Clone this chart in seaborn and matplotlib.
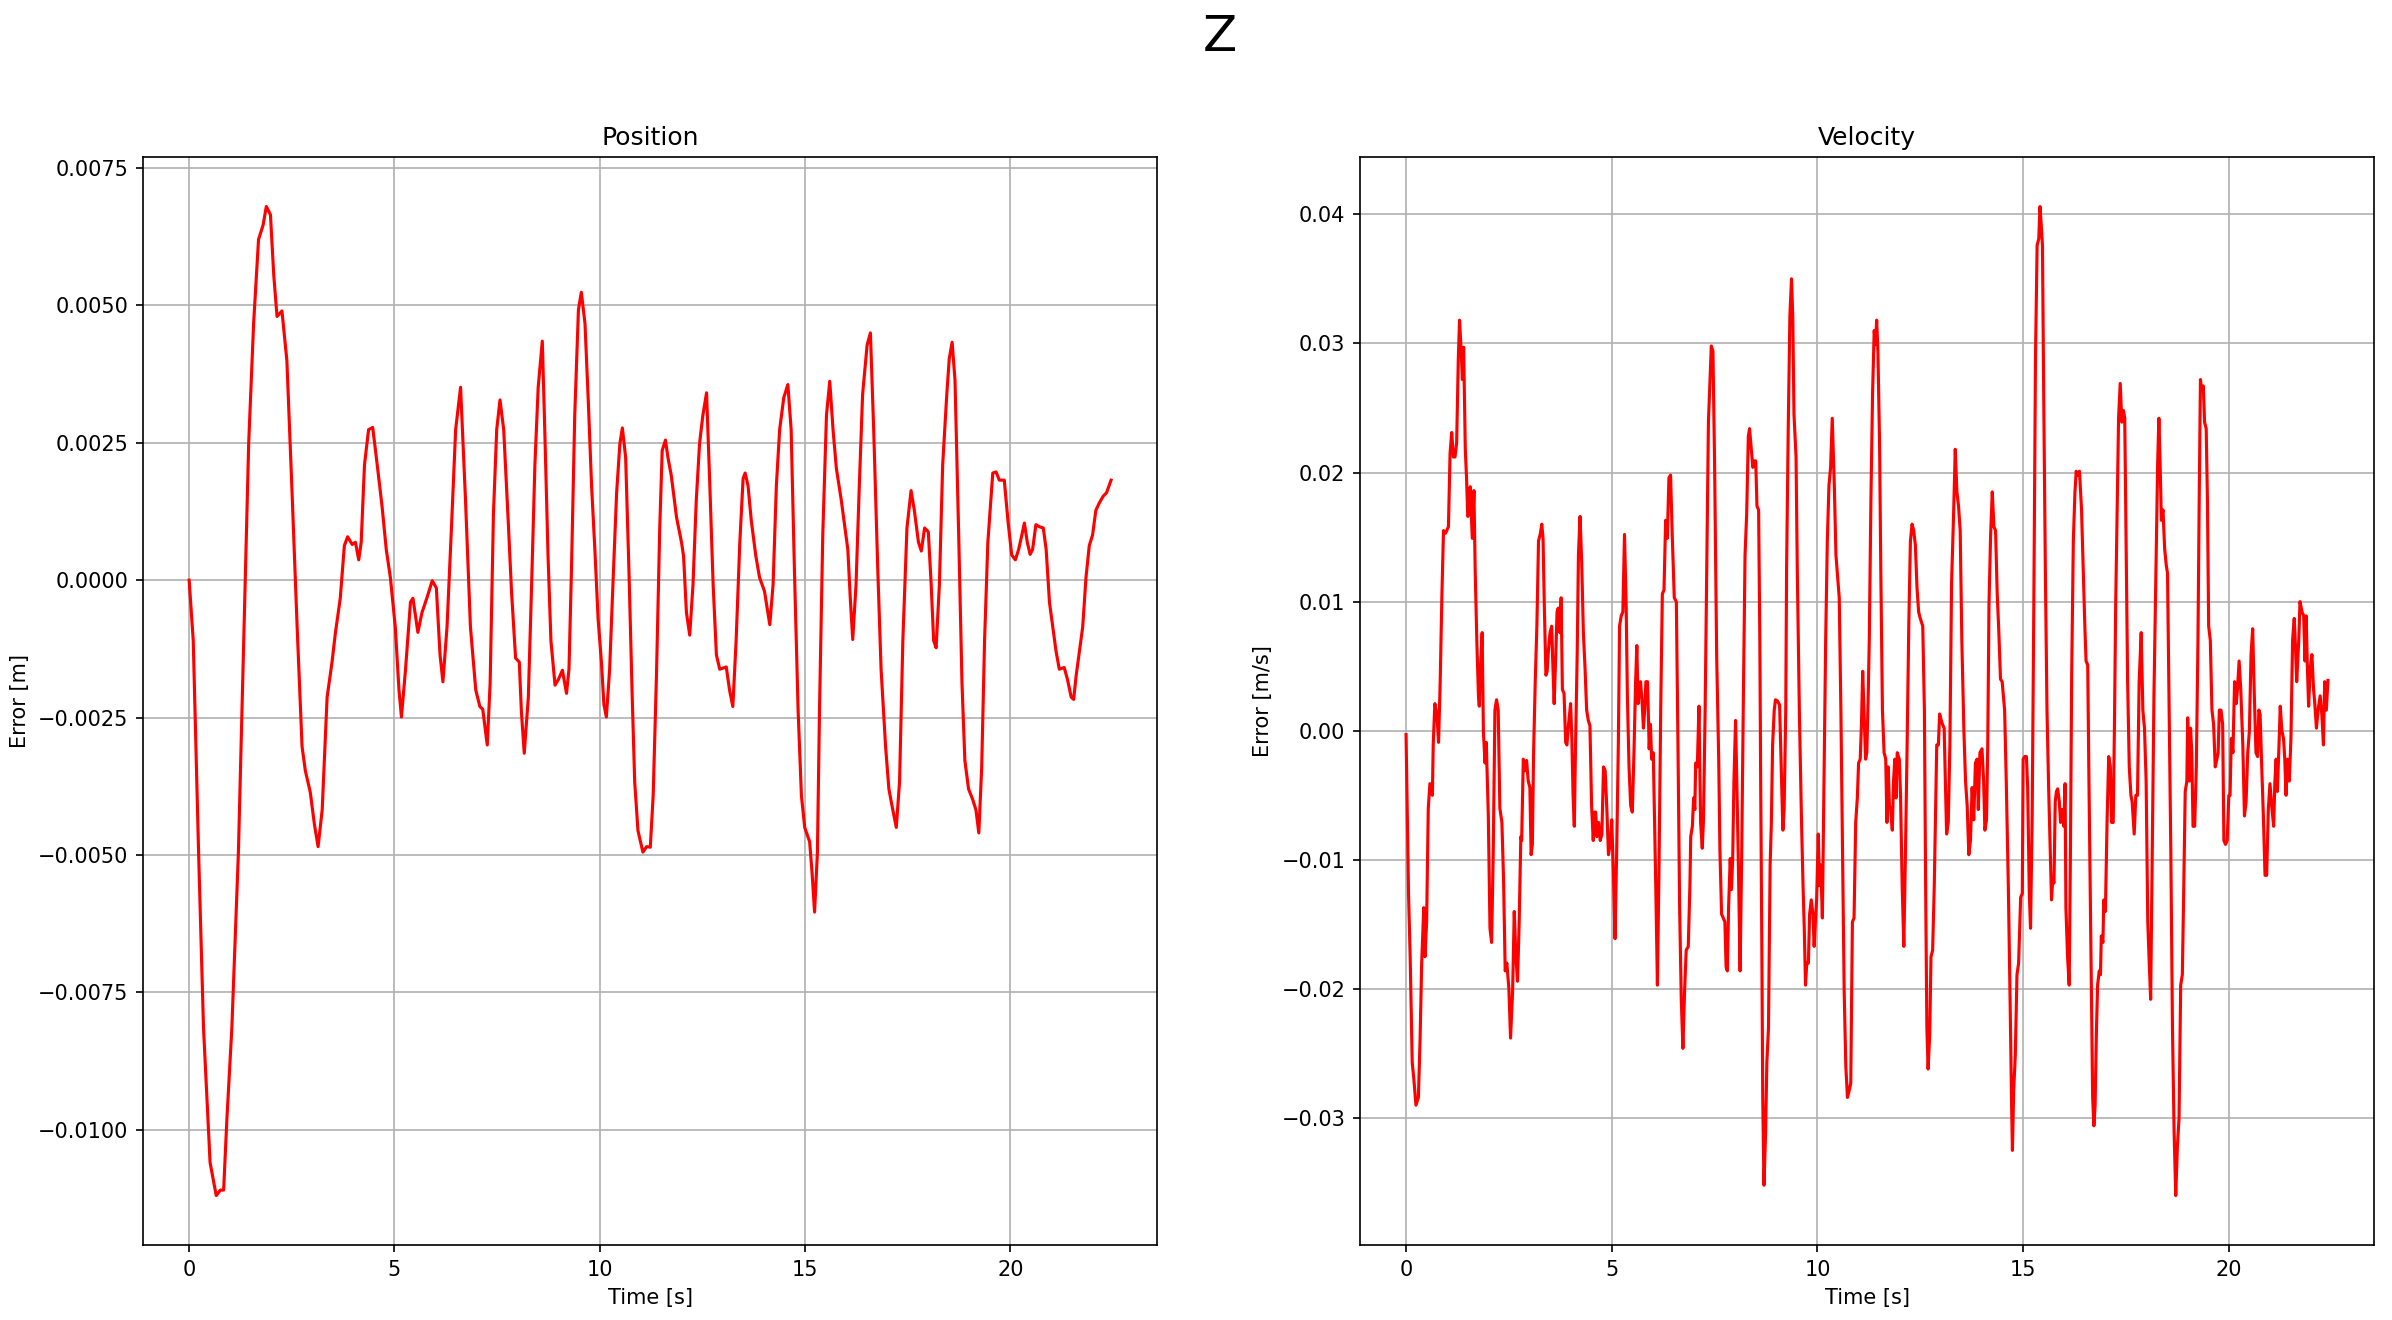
import pandas as pd
import matplotlib
matplotlib.use("Agg")
import matplotlib.pyplot as plt
import seaborn as sns

# posizione (errore in metri)
pos_time = [0, 0.1, 0.23, 0.35, 0.51, 0.66, 0.76, 0.84, 0.92, 1.04, 1.2, 1.33, 1.45, 1.57, 1.69,
            1.80, 1.88, 1.98, 2.06, 2.14, 2.26, 2.38, 2.50, 2.63, 2.75, 2.83, 2.95, 3.05, 3.14,
            3.24, 3.36, 3.48, 3.56, 3.68, 3.78, 3.86, 3.97, 4.05, 4.13, 4.19, 4.27, 4.37, 4.47,
            4.58, 4.70, 4.80, 4.90, 5.02, 5.11, 5.17, 5.27, 5.39, 5.45, 5.57, 5.67, 5.80, 5.92,
            6.02, 6.11, 6.18, 6.28, 6.38, 6.49, 6.61, 6.73, 6.85, 6.98, 7.08, 7.15, 7.26, 7.33,
            7.41, 7.49, 7.57, 7.66, 7.77, 7.85, 7.95, 8.04, 8.09, 8.16, 8.26, 8.34, 8.42, 8.50,
            8.60, 8.66, 8.74, 8.81, 8.91, 8.99, 9.09, 9.19, 9.25, 9.31, 9.39, 9.48, 9.55, 9.64,
            9.72, 9.80, 9.88, 9.96, 10.04, 10.10, 10.16, 10.24, 10.32, 10.41, 10.49, 10.55,
            10.63, 10.71, 10.79, 10.85, 10.93, 11.05, 11.14, 11.23, 11.30, 11.38, 11.46, 11.52,
            11.60, 11.66, 11.74, 11.87, 11.99, 12.04, 12.11, 12.19, 12.27, 12.35, 12.43, 12.51,
            12.60, 12.68, 12.76, 12.84, 12.92, 13.08, 13.16, 13.24, 13.32, 13.41, 13.49, 13.54,
            13.61, 13.69, 13.80, 13.89, 14.01, 14.14, 14.22, 14.30, 14.38, 14.48, 14.58, 14.66,
            14.74, 14.83, 14.91, 14.99, 15.11, 15.17, 15.23, 15.30, 15.35, 15.43, 15.52, 15.60,
            15.68, 15.76, 15.88, 16.04, 16.10, 16.16, 16.24, 16.32, 16.40, 16.51, 16.59, 16.67,
            16.77, 16.85, 16.96, 17.04, 17.12, 17.22, 17.30, 17.38, 17.48, 17.58, 17.66, 17.76,
            17.83, 17.91, 18.00, 18.07, 18.13, 18.19, 18.27, 18.35, 18.45, 18.51, 18.58, 18.65,
            18.74, 18.82, 18.89, 18.98, 19.08, 19.16, 19.23, 19.30, 19.37, 19.45, 19.51, 19.57,
            19.65, 19.73, 19.85, 19.94, 20.03, 20.12, 20.20, 20.26, 20.34, 20.41, 20.48, 20.54,
            20.62, 20.71, 20.80, 20.87, 20.95, 21.03, 21.11, 21.19, 21.31, 21.39, 21.48, 21.54,
            21.60, 21.68, 21.76, 21.84, 21.92, 22.00, 22.08, 22.16, 22.26, 22.34, 22.45]
pos_error = [0, -0.0011, -0.00495, -0.00815, -0.0106, -0.0112, -0.0111, -0.0111, -0.0098,
             -0.00815, -0.00495, -0.0011, 0.00249, 0.00467, 0.0062, 0.00646, 0.0068, 0.00665,
             0.00556, 0.0048, 0.0049, 0.0040, 0.00172, -0.00085, -0.00303, -0.00347, -0.00386,
             -0.00444, -0.00485, -0.00418, -0.00213, -0.00149, -0.00097, -0.00033, 0.00063,
             0.00079, 0.00065, 0.00069, 0.00037, 0.00069, 0.0021, 0.00274, 0.00278, 0.0021,
             0.00133, 0.00056, 0.00005, -0.00085, -0.002, -0.00249, -0.00162, -0.0004, -0.00033,
             -0.00095, -0.00059, -0.0003, -0.00001, -0.00014, -0.00136, -0.00185, -0.00085,
             0.00082, 0.00274, 0.00351, 0.00146, -0.00085, -0.002, -0.0023, -0.00235, -0.003,
             -0.00187, 0.0012, 0.00274, 0.00328, 0.00274, 0.00108, -0.0002, -0.00142, -0.00149,
             -0.00238, -0.00315, -0.00213, -0.00008, 0.0021, 0.00351, 0.00435, 0.00274, 0.00044,
             -0.0011, -0.00191, -0.00181, -0.00164, -0.00206, -0.00162, 0.00018, 0.003, 0.00492,
             0.00524, 0.00467, 0.00326, 0.00172, 0.00056, -0.00072, -0.00149, -0.00226, -0.00249,
             -0.00162, -0.00008, 0.00159, 0.00249, 0.00277, 0.00223, 0.00018, -0.00213, -0.00367,
             -0.00456, -0.00495, -0.00485, -0.00486, -0.00392, -0.00174, 0.00095, 0.00236,
             0.00255, 0.00223, 0.00191, 0.00114, 0.00069, 0.00044, -0.00059, -0.001, -0.00008,
             0.00146, 0.00249, 0.003, 0.00341, 0.00172, -0.00008, -0.00136, -0.00162, -0.00158,
             -0.002, -0.0023, -0.0011, 0.00069, 0.00185, 0.00195, 0.00172, 0.00108, 0.00044,
             0.00005, -0.0002, -0.00081, -0.00008, 0.00172, 0.00274, 0.00332, 0.00356, 0.00274,
             0.00018, -0.00238, -0.00392, -0.0045, -0.00476, -0.00533, -0.00604, -0.00495,
             -0.00238, 0.00082, 0.003, 0.00362, 0.00274, 0.00204, 0.00146, 0.00056, -0.00033,
             -0.00108, -0.00008, 0.00172, 0.00338, 0.00428, 0.0045, 0.00274, 0.00018, -0.00162,
             -0.00303, -0.0038, -0.00412, -0.0045, -0.00367, -0.0011, 0.00095, 0.00163, 0.00127,
             0.00069, 0.00053, 0.00095, 0.00088, -0.00008, -0.0011, -0.00123, -0.00008, 0.0021,
             0.00338, 0.00403, 0.00433, 0.00364, 0.00082, -0.00187, -0.00328, -0.0038, -0.00399,
             -0.00418, -0.0046, -0.00341, -0.0011, 0.00069, 0.00133, 0.00195, 0.00197, 0.00182,
             0.00182, 0.00108, 0.00046, 0.00037, 0.00056, 0.00076, 0.00104, 0.00069, 0.00047,
             0.00056, 0.00101, 0.00097, 0.00095, 0.00056, -0.0004, -0.00085, -0.00129, -0.00162,
             -0.00159, -0.00181, -0.00213, -0.00217, -0.00174, -0.00129, -0.00085, 0.00005,
             0.00063, 0.00082, 0.00127, 0.0014, 0.00153, 0.00159, 0.00182]

# velocita' (errore in m/s)
vel_time = [0, 0.06, 0.10, 0.15, 0.19, 0.24, 0.30, 0.34, 0.38, 0.43, 0.46, 0.50, 0.54, 0.58,
            0.64, 0.66, 0.70, 0.75, 0.79, 0.83, 0.87, 0.91, 0.96, 1.03, 1.07, 1.11, 1.15, 1.19,
            1.23, 1.27, 1.30, 1.34, 1.37, 1.40, 1.44, 1.47, 1.50, 1.53, 1.56, 1.61, 1.65, 1.68,
            1.72, 1.76, 1.78, 1.81, 1.85, 1.88, 1.92, 1.95, 2.00, 2.04, 2.08, 2.12, 2.16, 2.20,
            2.24, 2.28, 2.33, 2.37, 2.41, 2.45, 2.50, 2.54, 2.59, 2.63, 2.67, 2.71, 2.75, 2.79,
            2.81, 2.85, 2.89, 2.93, 2.97, 3.01, 3.04, 3.07, 3.10, 3.14, 3.18, 3.22, 3.26, 3.30,
            3.33, 3.36, 3.40, 3.43, 3.46, 3.50, 3.54, 3.57, 3.60, 3.64, 3.67, 3.70, 3.74, 3.77,
            3.80, 3.84, 3.88, 3.91, 3.95, 4.00, 4.03, 4.06, 4.09, 4.12, 4.16, 4.19, 4.23, 4.27,
            4.31, 4.35, 4.39, 4.43, 4.47, 4.51, 4.55, 4.58, 4.61, 4.64, 4.68, 4.72, 4.76, 4.80,
            4.84, 4.88, 4.92, 4.96, 5.00, 5.04, 5.08, 5.12, 5.16, 5.19, 5.23, 5.27, 5.31, 5.35,
            5.38, 5.42, 5.46, 5.50, 5.54, 5.58, 5.61, 5.64, 5.67, 5.70, 5.74, 5.77, 5.80, 5.83,
            5.87, 5.91, 5.94, 5.97, 6.01, 6.07, 6.11, 6.15, 6.19, 6.23, 6.27, 6.31, 6.35, 6.39,
            6.43, 6.47, 6.52, 6.57, 6.61, 6.65, 6.69, 6.73, 6.77, 6.81, 6.86, 6.90, 6.92, 6.96,
            6.99, 7.02, 7.04, 7.08, 7.12, 7.16, 7.20, 7.23, 7.27, 7.31, 7.35, 7.39, 7.42, 7.46,
            7.50, 7.55, 7.60, 7.63, 7.67, 7.71, 7.75, 7.78, 7.81, 7.84, 7.88, 7.91, 7.94, 7.97,
            8.01, 8.05, 8.09, 8.12, 8.16, 8.20, 8.24, 8.28, 8.32, 8.35, 8.38, 8.43, 8.46, 8.50,
            8.53, 8.57, 8.60, 8.62, 8.65, 8.67, 8.70, 8.74, 8.77, 8.81, 8.85, 8.88, 8.91, 8.95,
            8.98, 9.03, 9.08, 9.12, 9.16, 9.19, 9.23, 9.25, 9.29, 9.33, 9.37, 9.40, 9.43, 9.48,
            9.51, 9.56, 9.61, 9.65, 9.68, 9.71, 9.74, 9.78, 9.81, 9.85, 9.89, 9.92, 9.95, 9.98,
            10.02, 10.05, 10.08, 10.12, 10.16, 10.20, 10.24, 10.28, 10.32, 10.36, 10.41, 10.45,
            10.49, 10.53, 10.57, 10.61, 10.65, 10.69, 10.73, 10.77, 10.81, 10.85, 10.89, 10.93,
            10.97, 11.00, 11.04, 11.07, 11.10, 11.13, 11.17, 11.20, 11.23, 11.26, 11.30, 11.34,
            11.38, 11.41, 11.44, 11.47, 11.51, 11.54, 11.58, 11.62, 11.66, 11.69, 11.72, 11.75,
            11.78, 11.82, 11.85, 11.88, 11.91, 11.94, 11.99, 12.02, 12.06, 12.10, 12.14, 12.18,
            12.22, 12.26, 12.30, 12.34, 12.38, 12.42, 12.46, 12.50, 12.56, 12.60, 12.63, 12.66,
            12.69, 12.73, 12.76, 12.80, 12.84, 12.87, 12.90, 12.94, 12.97, 13.01, 13.04, 13.08,
            13.11, 13.14, 13.18, 13.22, 13.26, 13.31, 13.35, 13.39, 13.43, 13.47, 13.51, 13.56,
            13.60, 13.64, 13.68, 13.72, 13.76, 13.80, 13.84, 13.88, 13.91, 13.95, 14.00, 14.04,
            14.07, 14.11, 14.14, 14.17, 14.21, 14.25, 14.29, 14.33, 14.37, 14.41, 14.45, 14.49,
            14.55, 14.59, 14.64, 14.68, 14.72, 14.74, 14.77, 14.81, 14.85, 14.89, 14.94, 14.98,
            15.00, 15.04, 15.08, 15.11, 15.15, 15.18, 15.22, 15.26, 15.30, 15.34, 15.38, 15.41,
            15.44, 15.47, 15.50, 15.54, 15.58, 15.62, 15.66, 15.69, 15.72, 15.75, 15.78, 15.81,
            15.84, 15.88, 15.91, 15.95, 15.99, 16.02, 16.04, 16.08, 16.12, 16.15, 16.18, 16.22,
            16.26, 16.29, 16.33, 16.37, 16.42, 16.46, 16.50, 16.53, 16.57, 16.60, 16.64, 16.67,
            16.69, 16.72, 16.75, 16.78, 16.81, 16.85, 16.88, 16.90, 16.94, 16.96, 17.00, 17.04,
            17.08, 17.12, 17.15, 17.19, 17.22, 17.25, 17.29, 17.32, 17.36, 17.40, 17.44, 17.47,
            17.50, 17.54, 17.58, 17.62, 17.65, 17.70, 17.74, 17.78, 17.82, 17.87, 17.91, 17.95,
            17.99, 18.03, 18.06, 18.10, 18.14, 18.18, 18.23, 18.27, 18.30, 18.33, 18.36, 18.40,
            18.44, 18.48, 18.51, 18.55, 18.59, 18.63, 18.67, 18.71, 18.75, 18.79, 18.83, 18.87,
            18.90, 18.94, 18.98, 19.00, 19.04, 19.07, 19.10, 19.13, 19.17, 19.21, 19.25, 19.28,
            19.31, 19.34, 19.38, 19.41, 19.45, 19.48, 19.51, 19.55, 19.59, 19.63, 19.67, 19.71,
            19.74, 19.77, 19.81, 19.85, 19.88, 19.92, 19.96, 20.00, 20.03, 20.06, 20.10, 20.14,
            20.18, 20.21, 20.25, 20.29, 20.34, 20.38, 20.42, 20.46, 20.50, 20.54, 20.58, 20.62,
            20.66, 20.70, 20.73, 20.76, 20.80, 20.84, 20.88, 20.92, 20.96, 21.00, 21.05, 21.09,
            21.12, 21.15, 21.18, 21.22, 21.25, 21.29, 21.33, 21.36, 21.39, 21.43, 21.47, 21.51,
            21.55, 21.59, 21.62, 21.65, 21.70, 21.73, 21.78, 21.82, 21.85, 21.88, 21.91, 21.94,
            21.98, 22.02, 22.06, 22.09, 22.13, 22.17, 22.22, 22.26, 22.30, 22.33, 22.37, 22.41]
vel_error = [-0.0003, -0.0126, -0.0175, -0.0257, -0.027, -0.029, -0.0284, -0.024, -0.018,
             -0.0137, -0.0175, -0.0148, -0.006, -0.0041, -0.005, -0.0011, 0.0021, 0.0013,
             -0.0009, 0.0038, 0.0103, 0.0155, 0.0153, 0.0158, 0.0215, 0.0231, 0.0212, 0.0212,
             0.0223, 0.0288, 0.0318, 0.0294, 0.0272, 0.0297, 0.0218, 0.0196, 0.0166, 0.0168,
             0.0189, 0.0149, 0.0186, 0.0125, 0.007, 0.0027, 0.0019, 0.0049, 0.0076, -0.0001,
             -0.0025, -0.0009, -0.0066, -0.0153, -0.0164, -0.0093, 0.0016, 0.0024, 0.0016,
             -0.006, -0.0071, -0.0115, -0.0186, -0.018, -0.02, -0.0238, -0.0202, -0.014, -0.0175,
             -0.0194, -0.0148, -0.0082, -0.0085, -0.0022, -0.0031, -0.0023, -0.0039, -0.0044,
             -0.0096, -0.0088, -0.0017, 0.0038, 0.0081, 0.0147, 0.0152, 0.016, 0.0149, 0.0098,
             0.0043, 0.0046, 0.0062, 0.0076, 0.0081, 0.0049, 0.0021, 0.0059, 0.0092, 0.0095,
             0.0076, 0.0103, 0.0032, 0.0029, -0.0009, -0.0011, 0.0005, 0.0021, -0.0006, -0.005,
             -0.0074, -0.0011, 0.0059, 0.0136, 0.0166, 0.013, 0.0076, 0.0049, 0.0016, 0.0008,
             0.0004, -0.0058, -0.0085, -0.0063, -0.0063, -0.0082, -0.0071, -0.0085, -0.008,
             -0.0028, -0.0031, -0.006, -0.0096, -0.0088, -0.0069, -0.011, -0.0161, -0.0093,
             -0.0011, 0.0081, 0.0089, 0.0092, 0.0152, 0.0098, 0.0027, -0.0028, -0.0058, -0.0063,
             -0.0017, 0.0038, 0.0066, 0.0021, 0.0032, 0.0038, 0.0021, 0.0002, 0.0016, 0.0038,
             0.0038, -0.0014, 0.0005, -0.0022, -0.0017, -0.012, -0.0197, -0.0104, 0.0016, 0.0106,
             0.0109, 0.0163, 0.0149, 0.0196, 0.0198, 0.0152, 0.0103, 0.01, -0.0011, -0.0137,
             -0.0208, -0.0246, -0.0202, -0.017, -0.0167, -0.012, -0.0082, -0.0074, -0.0052,
             -0.0061, -0.0025, -0.0028, 0.0019, -0.0071, -0.0091, -0.0069, 0.0016, 0.0125,
             0.0239, 0.0272, 0.0298, 0.0294, 0.0207, 0.0059, -0.0022, -0.0093, -0.0142, -0.0145,
             -0.0148, -0.0183, -0.0186, -0.0137, -0.0099, -0.0123, -0.0099, -0.0039, 0.0008,
             -0.0055, -0.0126, -0.0186, -0.0093, 0.0027, 0.0136, 0.0168, 0.0228, 0.0234, 0.0223,
             0.0204, 0.0209, 0.0209, 0.0174, 0.0171, 0.007, -0.0039, -0.0175, -0.0284, -0.0352,
             -0.0311, -0.0257, -0.023, -0.0104, -0.0071, -0.0011, 0.0016, 0.0024, 0.0023, 0.002,
             -0.0028, -0.0077, -0.0061, 0.0016, 0.0125, 0.0234, 0.0321, 0.035, 0.0321, 0.0245,
             0.0212, 0.0125, 0.0016, -0.0066, -0.012, -0.0153, -0.0197, -0.018, -0.018, -0.0142,
             -0.0131, -0.0142, -0.0167, -0.0148, -0.0131, -0.008, -0.012, -0.0104, -0.0145,
             -0.0039, 0.007, 0.0147, 0.019, 0.0204, 0.0242, 0.019, 0.0136, 0.0119, 0.0103,
             0.0016, -0.0093, -0.0202, -0.026, -0.0284, -0.0279, -0.0273, -0.0148, -0.0145,
             -0.0071, -0.0052, -0.0025, -0.0022, 0.0005, 0.0046, 0.0016, -0.0022, -0.0017,
             0.0021, 0.007, 0.0179, 0.0261, 0.031, 0.0299, 0.0318, 0.0294, 0.0223, 0.0125,
             0.0016, -0.0017, -0.0022, -0.0071, -0.0028, -0.0058, -0.0061, -0.0077, -0.0039,
             -0.0022, -0.0052, -0.0017, -0.0022, -0.005, -0.012, -0.0167, -0.0093, -0.0011,
             0.0081, 0.0147, 0.016, 0.0155, 0.0144, 0.0111, 0.0092, 0.0087, 0.0081, 0.0016,
             -0.012, -0.023, -0.0262, -0.0235, -0.0175, -0.017, -0.012, -0.0066, -0.0011,
             -0.0011, 0.0013, 0.0008, 0.0005, 0.0002, -0.0039, -0.008, -0.0071, -0.0011, 0.0114,
             0.0168, 0.0218, 0.0185, 0.0174, 0.0155, 0.007, 0.0, -0.0039, -0.0058, -0.0096,
             -0.0085, -0.0044, -0.0069, -0.0025, -0.0022, -0.0061, -0.0017, -0.0014, -0.0039,
             -0.0077, -0.0069, -0.0011, 0.0098, 0.0152, 0.0185, 0.0158, 0.0155, 0.0106, 0.0076,
             0.004, 0.0038, 0.0016, -0.0039, -0.012, -0.0202, -0.029, -0.0325, -0.0279, -0.0251,
             -0.0189, -0.018, -0.0129, -0.0126, -0.0022, -0.002, -0.002, -0.0044, -0.0126,
             -0.0153, -0.0066, 0.0098, 0.0288, 0.0376, 0.0381, 0.0406, 0.0392, 0.0376, 0.0261,
             0.0125, 0.0016, -0.0044, -0.0093, -0.0131, -0.0115, -0.0118, -0.0055, -0.0047,
             -0.0045, -0.0055, -0.0071, -0.0061, -0.0074, -0.0041, -0.0137, -0.0175, -0.0197,
             -0.0093, 0.0043, 0.0147, 0.0185, 0.0201, 0.0198, 0.0201, 0.0171, 0.0125, 0.0081,
             0.0054, 0.0051, -0.0039, -0.0148, -0.023, -0.0284, -0.0306, -0.029, -0.0235,
             -0.0197, -0.0186, -0.0189, -0.0159, -0.0164, -0.0131, -0.014, -0.0071, -0.002,
             -0.0028, -0.0071, -0.0071, 0.0005, 0.0098, 0.0179, 0.0242, 0.0269, 0.0239, 0.0248,
             0.0242, 0.0152, 0.0038, -0.0028, -0.005, -0.0055, -0.008, -0.005, -0.005, 0.0038,
             0.0076, 0.0016, 0.0002, -0.0039, -0.0148, -0.0175, -0.0208, -0.0093, 0.0027, 0.0125,
             0.0207, 0.0242, 0.0207, 0.0163, 0.0171, 0.0141, 0.0128, 0.0122, 0.0016, -0.0093,
             -0.023, -0.0311, -0.036, -0.0322, -0.03, -0.0197, -0.0189, -0.0131, -0.0047,
             -0.0039, 0.001, -0.0039, 0.0002, -0.0017, -0.0074, -0.0074, -0.0028, 0.007, 0.0179,
             0.0272, 0.0264, 0.0267, 0.0239, 0.0234, 0.0179, 0.0081, 0.007, 0.0016, 0.0005,
             -0.0028, -0.0022, -0.0017, 0.0016, 0.0016, 0.0005, -0.0085, -0.0088, -0.0085,
             -0.005, -0.005, -0.0006, -0.0017, 0.0038, 0.0021, 0.0032, 0.0054, 0.0032, -0.0011,
             -0.0066, -0.0055, -0.0017, 0.0, 0.0059, 0.0079, 0.0027, -0.0017, -0.002, 0.0016,
             0.0013, -0.0028, -0.0066, -0.0112, -0.0112, -0.0061, -0.0041, -0.0061, -0.0074,
             -0.0039, -0.0022, -0.0047, -0.0011, 0.0019, 0.0, -0.0006, -0.0022, -0.005, -0.0022,
             -0.0039, -0.0006, 0.007, 0.0087, 0.0065, 0.0038, 0.007, 0.01, 0.0092, 0.0089,
             0.0054, 0.0089, 0.0049, 0.0019, 0.0049, 0.0059, 0.0032, 0.0021, 0.0002, 0.0016,
             0.0027, 0.0013, -0.0011, 0.0038, 0.0016, 0.0039]

df_pos = pd.DataFrame({"time": pos_time, "error": pos_error})
df_vel = pd.DataFrame({"time": vel_time, "error": vel_error})

fig, axes = plt.subplots(1, 2, figsize=(2392 / 150, 1320 / 150), dpi=150)
fig.subplots_adjust(left=0.0598, right=0.9925, bottom=0.0568, top=0.881, wspace=0.2)

# grafico posizione
sns.lineplot(data=df_pos, x="time", y="error", color="red", ax=axes[0],
             estimator=None, sort=False)
axes[0].set_title("Position")
axes[0].set_xlabel("Time [s]")
axes[0].set_ylabel("Error [m]")
axes[0].grid(True)

# grafico velocita'
sns.lineplot(data=df_vel, x="time", y="error", color="red", ax=axes[1],
             estimator=None, sort=False)
axes[1].set_title("Velocity")
axes[1].set_xlabel("Time [s]")
axes[1].set_ylabel("Error [m/s]")
axes[1].grid(True)

fig.suptitle("Z", fontsize=24, x=0.51, y=0.972, va="center")

plt.savefig("out.png", dpi=150)
plt.close()
